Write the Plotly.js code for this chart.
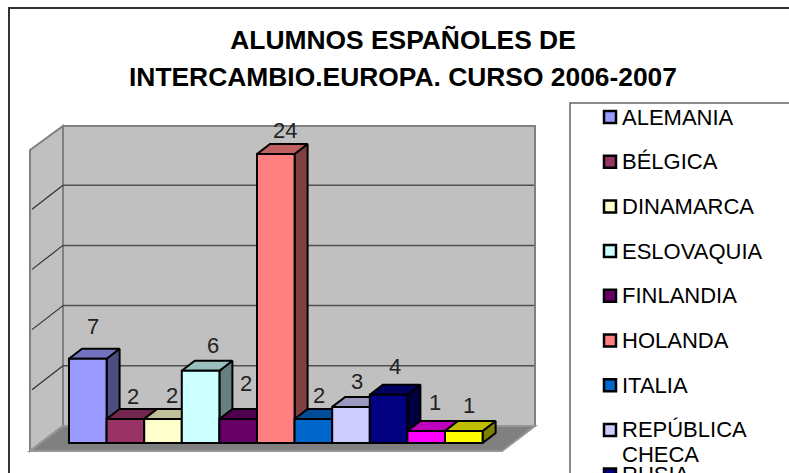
<!DOCTYPE html>
<html><head><meta charset="utf-8">
<script src="https://cdn.plot.ly/plotly-3.0.1.min.js"></script>
<style>html,body{margin:0;padding:0;background:#fff;overflow:hidden}</style>
</head><body><div id="chart" style="width:789px;height:473px"></div>
<script>
// ---- data ----
const categories = ["ALEMANIA","BÉLGICA","DINAMARCA","ESLOVAQUIA","FINLANDIA","HOLANDA","ITALIA","REPÚBLICA<br>CHECA","RUSIA","(fuera de cuadro 1)","(fuera de cuadro 2)"];
const values = [7,2,2,6,2,24,2,3,4,1,1];
const colors = ["#9999FF","#993366","#FFFFCC","#CCFFFF","#660066","#FF8080","#0066CC","#CCCCFF","#000080","#FF00FF","#FFFF00"];
const gridValues = [5,10,15,20];
const titleLines = ["ALUMNOS ESPAÑOLES DE","INTERCAMBIO.EUROPA. CURSO 2006-2007"];
// hand-placed data-label nudges (px, relative to the top-centre of the bar front)
const labelDx = [5,7.5,9,12,8,9,5.5,6,6,9,5.5];
const labelDy = [32,22,23,25,35,24,23,25,28.6,28,25];

// ---- layout geometry ----
const W=789,H=473, pxPerCat=37.6, pxPerVal=12.04, x0=69, y0=443;
const X=p=>(p-x0)/pxPerCat-0.5, Y=p=>(y0-p)/pxPerVal;
const dX=13/pxPerCat, dY=10/pxPerVal;
const wallBase=Y(426);

function shade(hex,f){
  const n=parseInt(hex.slice(1),16);
  return "rgb("+[n>>16&255,n>>8&255,n&255].map(c=>Math.round(c*f)).join(",")+")";
}
const traces=[];
categories.forEach((c,i)=>{
  const v=values[i], l=i-0.5, r=i+0.5;
  traces.push({type:"scatter",mode:"lines",fill:"toself",fillcolor:shade(colors[i],0.5),
    x:[r,r+dX,r+dX,r,r],y:[v,v+dY,dY,0,v],line:{color:"#000",width:2},zorder:3*i,hoverinfo:"skip",showlegend:false});
  traces.push({type:"scatter",mode:"lines",fill:"toself",fillcolor:shade(colors[i],0.75),
    x:[l,l+dX,r+dX,r,l],y:[v,v+dY,v+dY,v,v],line:{color:"#000",width:2},zorder:3*i+1,hoverinfo:"skip",showlegend:false});
  traces.push({type:"bar",x:[i],y:[v],width:1,name:c.replace("<br>"," "),
    marker:{color:colors[i],line:{color:"#000",width:2}},zorder:3*i+2,showlegend:false,hoverinfo:"x+y"});
});

function poly(pts,fill,line,lw){
  return {type:"path",layer:"below",xref:"x",yref:"y",
    path:pts.map((p,i)=>(i?"L":"M")+X(p[0])+","+Y(p[1])).join(" ")+" Z",
    fillcolor:fill,line:{color:line,width:lw}};
}
const shapes=[
  poly([[30,150],[63,126],[63,426],[30,451]],"#C0C0C0","#808080",2),
  poly([[63,126],[535,126],[535,426],[63,426]],"#C0C0C0","#808080",2),
  poly([[63,426],[535,426],[502,451],[30,451]],"#808080","#969696",2),
];
gridValues.forEach(g=>{
  const y=wallBase+g;
  shapes.push({type:"line",layer:"below",xref:"x",yref:"y",x0:X(63),x1:X(534),y0:y,y1:y,line:{color:"#505050",width:1.5}});
  shapes.push({type:"line",layer:"below",xref:"x",yref:"y",x0:X(63),x1:X(32),y0:y,y1:y-24/pxPerVal,line:{color:"#303030",width:1.2}});
});
// frame: runs off the right and bottom of the picture
shapes.push({type:"rect",layer:"below",xref:"paper",yref:"paper",x0:9/W,x1:1.1,y0:1-8/H,y1:-0.1,fillcolor:"rgba(0,0,0,0)",line:{color:"#333",width:2}});
// legend box
shapes.push({type:"rect",layer:"below",xref:"paper",yref:"paper",x0:570/W,x1:1.1,y0:1-103/H,y1:-0.1,fillcolor:"#fff",line:{color:"#666",width:1.5}});

const annotations=[];
values.forEach((v,i)=>annotations.push({xref:"x",yref:"y",x:i,y:v,xshift:labelDx[i],yshift:labelDy[i],text:String(v),showarrow:false,xanchor:"center",yanchor:"middle",font:{family:"Liberation Sans",size:22,color:"#222"}}));

// legend drawn by hand because the original overflows the picture
const legendY=p=>1-p/H;
categories.slice(0,9).forEach((c,i)=>{
  const cy=117+44.7*i;
  shapes.push({type:"rect",xref:"paper",yref:"paper",x0:604/W,x1:616/W,y0:legendY(cy-6),y1:legendY(cy+6),fillcolor:colors[i],line:{color:"#000",width:2.5}});
  const lines=c.split("<br>");
  lines.forEach((t,k)=>annotations.push({xref:"paper",yref:"paper",x:620/W,y:legendY(cy+k*25),text:t,showarrow:false,xanchor:"left",yanchor:"middle",font:{family:"Liberation Sans",size:22,color:"#000"}}));
});

const span=t=>'<span style="font-size:26.4px">'+t+'</span>';
const layout={
  width:W,height:H,margin:{l:0,r:0,t:0,b:0},paper_bgcolor:"#fff",plot_bgcolor:"rgba(0,0,0,0)",
  showlegend:false,barmode:"overlay",
  title:{text:titleLines.map(span).join("<br>"),font:{family:"Liberation Sans",size:28.5,color:"#000",weight:"bold"},
    x:403/W,xanchor:"center",y:1-49/H,yanchor:"middle"},
  xaxis:{range:[X(0),X(W)],visible:false,fixedrange:true},
  yaxis:{range:[Y(H),Y(0)],visible:false,fixedrange:true},
  shapes,annotations
};
Plotly.newPlot("chart",traces,layout,{displayModeBar:false});
</script></body></html>
